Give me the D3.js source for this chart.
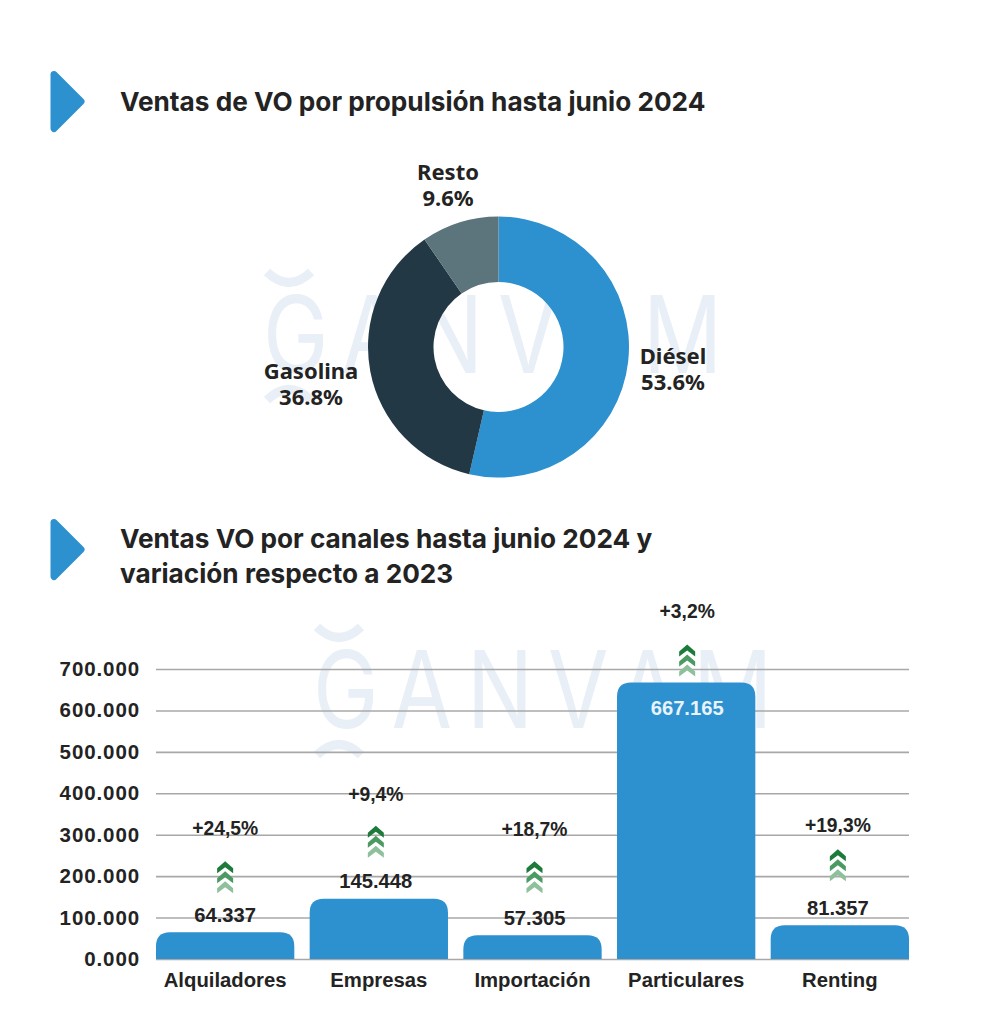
<!DOCTYPE html>
<html>
<head>
<meta charset="utf-8">
<script src="https://cdn.jsdelivr.net/npm/d3@7"></script>
<style>
  html, body { margin: 0; background: #fff; }
  svg { display: block; }
  text { fill: #232323; }
  .title { font: 700 26.2px Inter, sans-serif; }
  .pie-label { font: 700 22px "Noto Sans", sans-serif; text-anchor: middle; }
  .num { font: 700 20.2px "Liberation Sans", sans-serif; text-anchor: middle; }
  .pct { font: 700 19.3px "Liberation Sans", sans-serif; text-anchor: middle; }
  .tick-num { font: 700 20.5px "Liberation Sans", sans-serif; letter-spacing: 0.9px; }
  .cat { font: 700 20.3px "Liberation Sans", sans-serif; text-anchor: middle; }
  .mark { font: 400 107px Inter, sans-serif; fill: #e9eff7; }
</style>
</head>
<body>
<svg id="chart" width="1000" height="1024"></svg>
<script>
"use strict";

// donut
var fuels = [ "Diésel", "Gasolina", "Resto" ];
var fuelShare = [ 53.6, 36.8, 9.6 ];

// bars
var channels = [ "Alquiladores", "Empresas", "Importación", "Particulares", "Renting" ];
var channelSales = [ 64337, 145448, 57305, 667165, 81357 ];
var channelChange = [ 24.5, 9.4, 18.7, 3.2, 19.3 ];
var salesTicks = [ 0, 100000, 200000, 300000, 400000, 500000, 600000, 700000 ];

var blue = "#2d90cf";
var fuelColors = [ blue, "#233845", "#5c747b" ];

var svg = d3.select("#chart");
var es = d3.formatLocale({ decimal: ",", thousands: ".", grouping: [3], currency: ["", " €"] });
var fmtSales = es.format(",d");
var fmtChange = es.format("+.1f");
var fmtTick = function(v) { return v == 0 ? "0.000" : fmtSales(v) };

// watermarks, behind everything: the word plus the arcs above and below the G
[ [ 263, 373 ], [ 313, 728 ] ].forEach(function(p) {
  var g = svg.append("g").attr("transform", "translate(" + p[0] + "," + p[1] + ")");
  g.append("text").attr("class", "mark")
    .attr("transform", "scale(0.82,1)")
    .attr("textLength", 560).attr("lengthAdjust", "spacing")
    .text("GANVAM");
  g.append("path")
    .attr("d", "M4,-101Q26,-80 48,-101M4,27Q26,6 48,27")
    .attr("fill", "none").attr("stroke", "#e9eff7")
    .attr("stroke-width", 9);
});

// section headers
function header(cy, lines) {
  svg.append("path")
    .attr("d", d3.line()([ [ 54, cy - 27 ], [ 81, cy ], [ 54, cy + 27 ] ]) + "Z")
    .attr("fill", blue).attr("stroke", blue)
    .attr("stroke-width", 7).attr("stroke-linejoin", "round");
  lines.forEach(function(t, i) {
    svg.append("text").attr("class", "title")
      .attr("x", 120).attr("y", (lines.length == 1 ? cy + 9 : cy - 2) + i * 35)
      .text(t);
  });
}
header(101.5, [ "Ventas de VO por propulsión hasta junio 2024" ]);
header(549.5, [ "Ventas VO por canales hasta junio 2024 y", "variación respecto a 2023" ]);

// donut
var pie = d3.pie().sort(null);
var arc = d3.arc().innerRadius(65).outerRadius(130.5);
var donut = svg.append("g").attr("transform", "translate(498.5,347)");
donut.selectAll("path")
  .data( pie(fuelShare) )
  .enter().append("path")
  .attr( "d", arc )
  .attr( "fill", function(d, i) { return fuelColors[i] } );

var fuelLabelPos = [ [ 673, 364 ], [ 311, 379 ], [ 448, 180 ] ];
fuels.forEach(function(name, i) {
  var t = svg.append("text").attr("class", "pie-label");
  t.append("tspan").attr("x", fuelLabelPos[i][0]).attr("y", fuelLabelPos[i][1]).text(name);
  t.append("tspan").attr("x", fuelLabelPos[i][0]).attr("y", fuelLabelPos[i][1] + 26)
    .text(fuelShare[i].toFixed(1) + "%");
});

// bars
var x = d3.scaleBand().domain(channels).range([ 156, 909 ]).paddingInner(0.1);
var y = d3.scaleLinear().domain([ 0, 700000 ]).range([ 959, 669 ]);

var yAxis = d3.axisLeft(y).tickValues(salesTicks).tickFormat(fmtTick)
  .tickSize(-(909 - 156)).tickPadding(16);
var gy = svg.append("g").attr("transform", "translate(156,0)").call(yAxis);
gy.select(".domain").remove();
gy.selectAll("line").attr("stroke", "#a8a8a8").attr("stroke-width", 1.6);
gy.selectAll("text").attr("class", "tick-num").style("font-family", null);

function barPath(name, v) {
  var x0 = x(name), x1 = x0 + x.bandwidth(), top = y(v), base = y(0), r = 14;
  return "M" + x0 + "," + base + "V" + (top + r) + "Q" + x0 + "," + top + " " + (x0 + r) + "," + top
    + "H" + (x1 - r) + "Q" + x1 + "," + top + " " + x1 + "," + (top + r) + "V" + base + "Z";
}

svg.selectAll(".bar")
  .data( channels )
  .enter().append("path")
  .attr( "class", "bar" )
  .attr( "d", function(d, i) { return barPath(d, channelSales[i]) } )
  .attr( "fill", blue );

// how far each arrow and percentage sit from their bar, hand placed in the original
var arrowGap = [ 56, 58, 59, 23, 61 ];
var changeGap = [ 48, 46, 47, 48, 39 ];
var arrowNudge = [ 0, -3, 2, 1, -2 ];

function chevrons(cx, cy) {
  var g = svg.append("g").attr("transform", "translate(" + cx + "," + cy + ")");
  [ [ 5, "#8fc09c" ], [ -5, "#4b9a62" ], [ -15, "#1c7a3a" ] ].forEach(function(c) {
    g.append("path")
      .attr("d", "M-8," + (c[0] + 7) + "L0," + c[0] + "L8," + (c[0] + 7)
        + "V" + (c[0] + 12) + "L0," + (c[0] + 6) + "L-8," + (c[0] + 12) + "Z")
      .attr("fill", c[1]);
  });
}

channels.forEach(function(name, i) {
  var cx = x(name) + x.bandwidth() / 2;
  var top = y(channelSales[i]);
  var inside = channelSales[i] > 400000;
  svg.append("text").attr("class", "num")
    .attr("x", cx + arrowNudge[i]).attr("y", inside ? top + 32 : top - 10.5)
    .style("fill", inside ? "#e8f3fb" : null)
    .text(fmtSales(channelSales[i]));

  var arrowY = top - arrowGap[i];
  chevrons(cx + arrowNudge[i], arrowY);
  svg.append("text").attr("class", "pct")
    .attr("x", cx + arrowNudge[i]).attr("y", arrowY - changeGap[i] + 6.5)
    .text(fmtChange(channelChange[i]) + "%");

  svg.append("text").attr("class", "cat")
    .attr("x", cx).attr("y", 987).text(name);
});
</script>
</body>
</html>
